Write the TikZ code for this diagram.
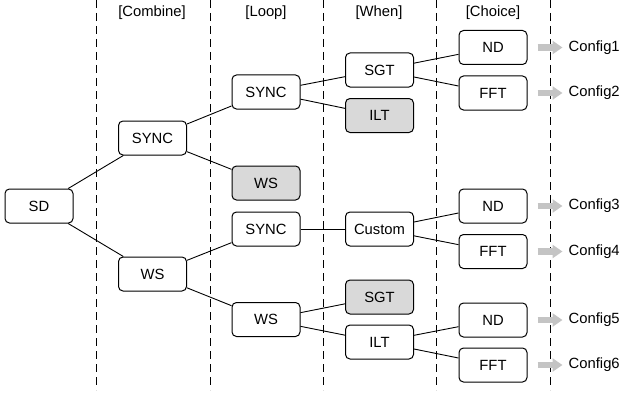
\documentclass[tikz,border=0pt]{standalone}
\usepackage{fontspec}
\setmainfont{Liberation Sans}
\usetikzlibrary{arrows.meta}
\definecolor{boxgray}{HTML}{D9D9D9}
\definecolor{arrgray}{HTML}{C4C4C4}
\begin{document}
\begin{tikzpicture}[x=1pt,y=-1pt,
  font=\fontsize{14.8pt}{17pt}\selectfont,
  box/.style={draw, line width=1pt, rounded corners=4.5pt, minimum width=68pt, minimum height=34pt, inner sep=0pt, fill=white},
  grbox/.style={box, fill=boxgray},
  sep/.style={dashed, dash pattern=on 8pt off 5pt, line width=0.8pt},
  edge/.style={line width=0.9pt},
  cfgarrow/.style={arrgray, line width=6.5pt, -{Triangle[length=10pt,width=13pt]}},
  hdr/.style={inner sep=0pt},
  cfg/.style={anchor=west, inner sep=0pt}
]
\useasboundingbox (0,0) rectangle (621,396);
% separators
\foreach \x/\n in {96/a,210/b,323/c,436/d,550/e}{
  \coordinate (t\n) at (\x,0);
  \coordinate (b\n) at (\x,390);
  \draw[sep] (t\n) -- (b\n);
}
% headers
\node[hdr] (hcomb) at (152,13) {[Combine]};
\node[hdr] (hloop) at (266,13) {[Loop]};
\node[hdr] (hwhen) at (379,13) {[When]};
\node[hdr] (hchoice) at (493,13) {[Choice]};
% nodes
\node[box] (sd) at (39,206) {SD};
\node[box] (csync) at (152.5,138) {SYNC};
\node[box] (cws) at (152.5,274) {WS};
\node[box] (lsync1) at (266,92) {SYNC};
\node[grbox] (lws1) at (266,183) {WS};
\node[box] (lsync2) at (266,229) {SYNC};
\node[box] (lws2) at (266,319.5) {WS};
\node[box] (wsgt1) at (379.5,70) {SGT};
\node[grbox] (wilt1) at (379.5,115.5) {ILT};
\node[box] (wcust) at (379.5,229) {Custom};
\node[grbox] (wsgt2) at (379.5,297) {SGT};
\node[box] (wilt2) at (379.5,342) {ILT};
\node[box] (nd1) at (493,47.5) {ND};
\node[box] (fft2) at (493,93) {FFT};
\node[box] (nd3) at (493,206) {ND};
\node[box] (fft4) at (493,251.5) {FFT};
\node[box] (nd5) at (493,320) {ND};
\node[box] (fft6) at (493,365) {FFT};
% edges
\draw[edge] (sd) -- (csync);
\draw[edge] (sd) -- (cws);
\draw[edge] (csync) -- (lsync1);
\draw[edge] (csync) -- (lws1);
\draw[edge] (cws) -- (lsync2);
\draw[edge] (cws) -- (lws2);
\draw[edge] (lsync1) -- (wsgt1);
\draw[edge] (lsync1) -- (wilt1);
\draw[edge] (lsync2) -- (wcust);
\draw[edge] (lws2) -- (wsgt2);
\draw[edge] (lws2) -- (wilt2);
\draw[edge] (wsgt1) -- (nd1);
\draw[edge] (wsgt1) -- (fft2);
\draw[edge] (wcust) -- (nd3);
\draw[edge] (wcust) -- (fft4);
\draw[edge] (wilt2) -- (nd5);
\draw[edge] (wilt2) -- (fft6);
% configs
\foreach \s/\i in {nd1/1,fft2/2,nd3/3,fft4/4,nd5/5,fft6/6}{
  \node[cfg] (cfg\i) at ([xshift=41pt]\s.east) {Config\i};
  \draw[cfgarrow] ([xshift=10pt]\s.east) -- ([xshift=-6pt]cfg\i.west);
}
\end{tikzpicture}
\end{document}
